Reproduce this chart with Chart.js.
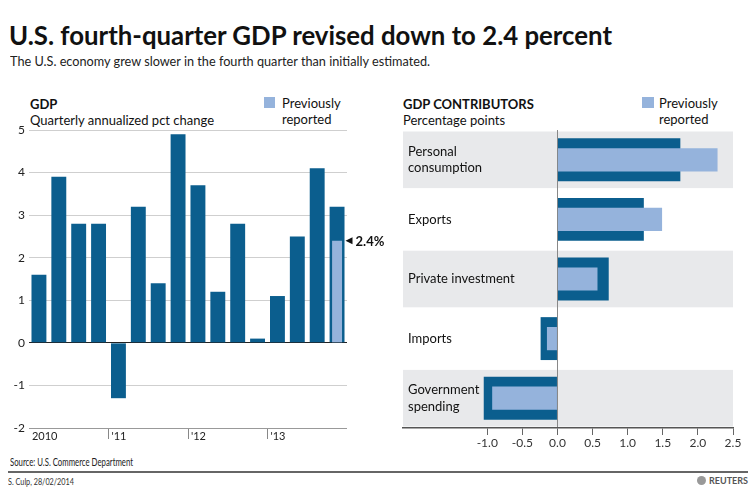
<!DOCTYPE html>
<html><head><meta charset="utf-8">
<script src="https://cdn.jsdelivr.net/npm/chart.js@4.4.1/dist/chart.umd.min.js"></script>
<style>
body{margin:0;width:756px;height:487px;background:#fff;position:relative;overflow:hidden;font-family:Lato,sans-serif;color:#111}
.t{position:absolute;white-space:nowrap;transform-origin:0 0;line-height:16px;font-size:13px}
canvas{position:absolute}
.sw{position:absolute;width:11px;height:11px;background:#95b3dc}
</style></head><body>
<div class="t" id="title" style="left:9px;top:20px;font-size:26px;line-height:30px;font-weight:700;color:#111">U.S. fourth-quarter GDP revised down to 2.4 percent</div>
<div class="t" id="sub" style="left:10px;top:53px;color:#222">The U.S. economy grew slower in the fourth quarter than initially estimated.</div>

<div class="t" style="left:30px;top:96px;font-weight:700">GDP</div>
<div class="t" id="lsub" style="left:30px;top:112px">Quarterly annualized pct change</div>
<div class="sw" style="left:264px;top:97px"></div>
<div class="t" style="left:282px;top:95px">Previously<br>reported</div>

<div class="t" id="rtitle" style="left:403px;top:96px;font-weight:700">GDP CONTRIBUTORS</div>
<div class="t" style="left:403px;top:112px">Percentage points</div>
<div class="sw" style="left:642px;top:97px;width:12px"></div>
<div class="t" style="left:659px;top:95px">Previously<br>reported</div>

<canvas id="left" width="395" height="330" style="left:0;top:120px"></canvas>
<canvas id="right" width="361" height="330" style="left:395px;top:120px"></canvas>

<div class="t" id="src" style="left:10px;top:454px;font-size:11px;color:#222">Source: U.S. Commerce Department</div>
<div style="position:absolute;left:8px;top:471px;width:740px;height:2px;background:#666"></div>
<div class="t" id="cred" style="left:8px;top:474px;font-size:9px;color:#333">S. Culp, 28/02/2014</div>
<div style="position:absolute;left:697px;top:476px;width:9px;height:9px;border-radius:50%;background:#999"></div>
<div class="t" id="reut" style="left:709px;top:473px;font-size:9px;font-weight:700;color:#555">REUTERS</div>

<script>
// ---- Data ----
const quarterTickLabels = ['2010','','','',"'11",'','','',"'12",'','','',"'13",'','',''];
const gdpRevised = [1.6,3.9,2.8,2.8,-1.3,3.2,1.4,4.9,3.7,1.2,2.8,0.1,1.1,2.5,4.1,3.2];
const gdpPrevious = [null,null,null,null,null,null,null,null,null,null,null,null,null,null,null,2.4];
const gdpYTicks = [-2,-1,0,1,2,3,4,5];

const contribCategories = [['Personal','consumption'],'Exports','Private investment','Imports',['Government','spending']];
const contribRevised = [1.75,1.23,0.73,-0.24,-1.05];
const contribPrevious = [2.28,1.49,0.57,-0.15,-0.93];
const contribXTicks = [-1.0,-0.5,0.0,0.5,1.0,1.5,2.0,2.5];

const DARK = '#0b5e8e', LIGHT = '#95b3dc', BAND = '#e8e9eb';

function fit(id, w){const el=document.getElementById(id);el.style.transform='none';const r=el.getBoundingClientRect().width;el.style.transform='scaleX('+(w/r)+')';}
function fitAll(){fit('title',603);fit('sub',420);fit('src',123);fit('cred',66);fit('reut',39);}
fitAll();
if(document.fonts&&document.fonts.ready)document.fonts.ready.then(fitAll);

Chart.defaults.font.family = 'Lato';
Chart.defaults.animation = false;

// annotation plugin for left chart
const annot = {
  id:'annot',
  afterDatasetsDraw(chart){
    const ctx = chart.ctx;
    const i = gdpPrevious.length-1;
    const dark = chart.getDatasetMeta(1).data[i];
    const light = chart.getDatasetMeta(0).data[i];
    const x0 = dark.x + dark.width/2 + 1;
    const y = light.y;
    ctx.save();
    ctx.fillStyle = '#111';
    ctx.beginPath();
    ctx.moveTo(x0, y); ctx.lineTo(x0+7, y-3.5); ctx.lineTo(x0+7, y+3.5); ctx.closePath(); ctx.fill();
    ctx.font = '700 13px Lato';
    ctx.textBaseline = 'middle';
    ctx.fillText(gdpPrevious[i].toFixed(1)+'%', x0+10, y+1);
    ctx.restore();
  }
};

new Chart(document.getElementById('left'), {
  type:'bar',
  data:{
    labels: quarterTickLabels,
    datasets:[
      {data:gdpPrevious, backgroundColor:LIGHT, barPercentage:0.5, categoryPercentage:1, grouped:false, order:0},
      {data:gdpRevised, backgroundColor:DARK, barPercentage:0.75, categoryPercentage:1, grouped:false, order:1}
    ]
  },
  options:{
    responsive:false,
    layout:{padding:{top:10,right:48,left:0,bottom:0}},
    plugins:{legend:{display:false},tooltip:{enabled:false}},
    scales:{
      x:{
        afterFit(s){s.height=22;s.paddingLeft=0;s.paddingRight=0;},
        border:{display:false},
        grid:{offset:true, drawOnChartArea:false, tickLength:11,
          color:(c)=> (c.index===4||c.index===8||c.index===12) ? '#888' : 'rgba(0,0,0,0)'},
        ticks:{autoSkip:false, maxRotation:0, align:'start', labelOffset:-7, padding:-9, color:'#222', font:{size:11}}
      },
      y:{
        min:-2, max:5,
        afterFit(s){s.width=29;s.paddingTop=0;s.paddingBottom=0;},
        afterBuildTicks(s){s.ticks = gdpYTicks.map(v=>({value:v}));},
        border:{display:false},
        grid:{drawTicks:false, color:(c)=> c.tick && c.tick.value===0 ? '#222' : (c.tick && c.tick.value===-2 ? '#999' : '#cfcfcf')},
        ticks:{padding:4, color:'#222', font:{size:12}}
      }
    }
  },
  plugins:[annot]
});

const bands = {
  id:'bands',
  beforeDraw(chart){
    const y = chart.scales.y, a = chart.chartArea, ctx = chart.ctx;
    const slot = Math.abs(y.getPixelForValue(1)-y.getPixelForValue(0));
    const h = slot*0.95;
    ctx.save(); ctx.fillStyle = BAND;
    contribCategories.forEach((c,i)=>{ if(i%2===0){ const cy=y.getPixelForValue(i); ctx.fillRect(a.left, cy-h/2, a.right-a.left, h);} });
    ctx.restore();
  }
};

new Chart(document.getElementById('right'), {
  type:'bar',
  data:{
    labels: contribCategories,
    datasets:[
      {data:contribPrevious, backgroundColor:LIGHT, barPercentage:0.39, categoryPercentage:1, grouped:false, order:0},
      {data:contribRevised, backgroundColor:DARK, barPercentage:0.72, categoryPercentage:1, grouped:false, order:1}
    ]
  },
  options:{
    indexAxis:'y',
    responsive:false,
    layout:{padding:{top:10,right:23,left:8,bottom:0}},
    plugins:{legend:{display:false},tooltip:{enabled:false}},
    scales:{
      x:{
        min:-2.2, max:2.5,
        afterFit(s){s.height=22;s.paddingLeft=0;s.paddingRight=0;},
        afterBuildTicks(s){s.ticks = contribXTicks.map(v=>({value:v}));},
        border:{display:true, color:'#555', width:1.5},
        grid:{drawOnChartArea:true, tickLength:7, tickColor:'#666',
          color:(c)=> c.tick && c.tick.value===0 ? '#888' : 'rgba(0,0,0,0)'},
        ticks:{padding:1, color:'#333', font:{size:12}, callback:(v)=>Number(v).toFixed(1)}
      },
      y:{
        afterFit(s){s.width=0;s.paddingTop=0;s.paddingBottom=0;},
        border:{display:false},
        grid:{display:false},
        ticks:{mirror:true, padding:5, color:'#111', font:{size:13, lineHeight:1.25}}
      }
    }
  },
  plugins:[bands]
});
</script>
</body></html>
